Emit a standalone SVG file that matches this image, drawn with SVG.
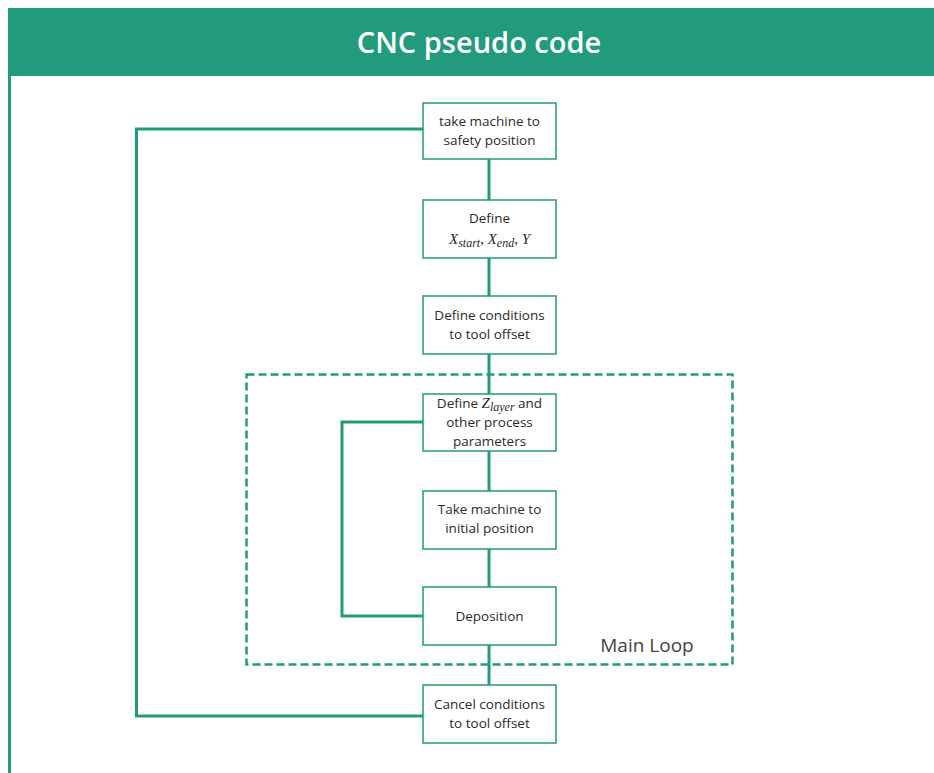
<svg xmlns="http://www.w3.org/2000/svg" width="934" height="773" viewBox="0 0 934 773">
  <style>
    .box { fill: #ffffff; stroke: #229b7d; stroke-width: 1.5; }
    .lbl { font-family: "Open Sans", "Noto Sans", sans-serif; font-size: 13.5px; fill: #2a2a2a; text-anchor: middle; }
    .math { font-family: "Liberation Serif", serif; font-style: italic; }
    .wire { fill: none; stroke: #229b7d; stroke-width: 3; }
  </style>
  <rect x="0" y="0" width="934" height="773" fill="#ffffff"/>

  <!-- header band and frame edge -->
  <g id="header">
    <rect x="8" y="8" width="926" height="68" fill="#229b7d"/>
    <line x1="9.5" y1="76" x2="9.5" y2="773" stroke="#229b7d" stroke-width="3"/>
    <text x="479" y="53" font-family="Open Sans, Noto Sans, sans-serif" font-size="29" font-weight="600" fill="#ffffff" text-anchor="middle">CNC pseudo code</text>
  </g>

  <!-- connectors -->
  <g id="connectors">
    <line class="wire" x1="489" y1="159" x2="489" y2="200"/>
    <line class="wire" x1="489" y1="258" x2="489" y2="296"/>
    <line class="wire" x1="489" y1="354" x2="489" y2="394"/>
    <line class="wire" x1="489" y1="451" x2="489" y2="491"/>
    <line class="wire" x1="489" y1="549" x2="489" y2="587"/>
    <line class="wire" x1="489" y1="645" x2="489" y2="685"/>
    <polyline class="wire" points="423,129 136.5,129 136.5,716 423,716"/>
    <polyline class="wire" points="423,422 342,422 342,616 423,616"/>
  </g>

  <!-- main loop boundary -->
  <g id="main-loop">
    <rect x="246.5" y="374.5" width="486" height="290" fill="none" stroke="#229b7d" stroke-width="2.5" stroke-dasharray="8,4"/>
    <text x="647" y="652" font-family="Open Sans, Noto Sans, sans-serif" font-size="19" fill="#444444" text-anchor="middle">Main Loop</text>
  </g>

  <g id="n1">
    <rect class="box" x="423" y="103" width="133" height="56"/>
    <text class="lbl" x="489.5" y="126">take machine to</text>
    <text class="lbl" x="489.5" y="145">safety position</text>
  </g>

  <g id="n2">
    <rect class="box" x="423" y="200" width="133" height="58"/>
    <text class="lbl" x="489.5" y="223">Define</text>
    <text class="lbl" x="489.5" y="244"><tspan class="math" font-size="15">X</tspan><tspan class="math" font-size="12" dy="3">start</tspan><tspan font-family="Liberation Serif, serif" font-size="15" dy="-3">, </tspan><tspan class="math" font-size="15">X</tspan><tspan class="math" font-size="12" dy="3">end</tspan><tspan font-family="Liberation Serif, serif" font-size="15" dy="-3">, </tspan><tspan class="math" font-size="15">Y</tspan></text>
  </g>

  <g id="n3">
    <rect class="box" x="423" y="296" width="133" height="58"/>
    <text class="lbl" x="489.5" y="320">Define conditions</text>
    <text class="lbl" x="489.5" y="339">to tool offset</text>
  </g>

  <g id="n4">
    <rect class="box" x="423" y="394" width="133" height="57"/>
    <text class="lbl" x="489.5" y="408">Define <tspan class="math" font-size="15">Z</tspan><tspan class="math" font-size="12" dy="3">layer</tspan><tspan dy="-3"> and</tspan></text>
    <text class="lbl" x="489.5" y="427">other process</text>
    <text class="lbl" x="489.5" y="446">parameters</text>
  </g>

  <g id="n5">
    <rect class="box" x="423" y="491" width="133" height="58"/>
    <text class="lbl" x="489.5" y="514">Take machine to</text>
    <text class="lbl" x="489.5" y="533">initial position</text>
  </g>

  <g id="n6">
    <rect class="box" x="423" y="587" width="133" height="58"/>
    <text class="lbl" x="489.5" y="621">Deposition</text>
  </g>

  <g id="n7">
    <rect class="box" x="423" y="685" width="133" height="58"/>
    <text class="lbl" x="489.5" y="709">Cancel conditions</text>
    <text class="lbl" x="489.5" y="728">to tool offset</text>
  </g>
</svg>
